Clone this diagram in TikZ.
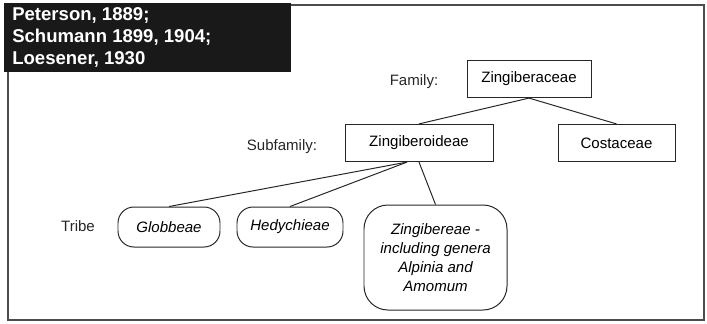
\documentclass[tikz,border=0pt]{standalone}
\usepackage{fontspec}
\setmainfont{Liberation Sans}
\usetikzlibrary{positioning}

\begin{document}
\begin{tikzpicture}[
        rank/.style={draw=black!85, line width=0.7pt, minimum height=0.93cm, inner sep=0pt, font=\fontsize{10.7}{13}\selectfont},
        tribebox/.style={draw=black!85, line width=0.7pt, rounded corners=0.4cm, minimum height=1cm, inner sep=0pt, align=center, font=\fontsize{10.7}{13.5}\selectfont\itshape},
        level/.style={inner sep=0pt, text=black!85, font=\fontsize{10.7}{13}\selectfont},
        link/.style={draw=black!85, line width=0.7pt}
    ]
        \useasboundingbox (0, 0) rectangle (17.675, -8.075);
        \path[draw=black!70, line width=0.8pt] (0.2, -0.125) rectangle (17.6, -8.0);

        \path[fill=black!90] (0.1, -0.075) rectangle (7.275, -1.8);
        \node[anchor=north west, inner sep=0pt, align=left, text=white, font=\fontsize{13.2}{15.8}\selectfont\bfseries] (authors) at (0.3, -0.18) {Peterson, 1889;\\Schumann 1899, 1904;\\Loesener, 1930};

        \node[rank, minimum width=3.1cm] (family) at (13.225, -1.975) {Zingiberaceae};
        \node[rank, minimum width=3.7cm] (sub) at (10.475, -3.575) {Zingiberoideae};
        \node[rank, minimum width=2.925cm] (cost) at (15.4125, -3.575) {Costaceae};

        \node[tribebox, minimum width=2.55cm] (glob) at (4.225, -5.675) {Globbeae};
        \node[tribebox, minimum width=2.65cm] (hedy) at (7.25, -5.675) {Hedychieae};
        \node[tribebox, rounded corners=0.6cm, minimum width=3.575cm, minimum height=2.625cm] (zing) at (10.8875, -6.4375) {Zingibereae -\\including genera\\Alpinia and\\Amomum};

        \node[level] (familylabel) at (10.35, -2.05) {Family:};
        \node[level] (sublabel) at (7.05, -3.675) {Subfamily:};
        \node[level] (tribelabel) at (1.95, -5.65) {Tribe};

        \path[link] (family.south) -- (sub.north);
        \path[link] (family.south) -- (cost.north);
        \coordinate[left=0.3 of sub.south] (fork);
        \path[link] (fork) -- (glob.north);
        \path[link] (fork) -- (hedy.north);
        \path[link] (sub.south) -- (zing.north);
    \end{tikzpicture}
\end{document}
